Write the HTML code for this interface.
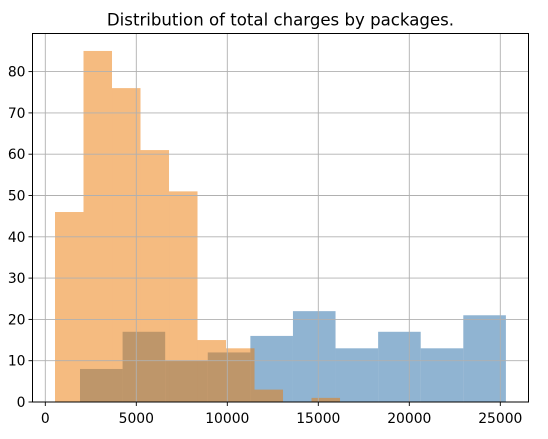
<!DOCTYPE html>
<html><head><meta charset="utf-8"><style>
body{margin:0;background:#fff;font-family:"DejaVu Sans","Liberation Sans",sans-serif}
</style></head><body>
<svg id="c" width="548" height="435" xmlns="http://www.w3.org/2000/svg" font-family="DejaVu Sans, Liberation Sans, sans-serif">
<text x="280.5" y="25.5" text-anchor="middle" font-size="16.6" fill="#000">Distribution of total charges by packages.</text>
</svg>
<script>
const blueCounts=[8,17,10,12,16,22,13,17,13,21];
const blueStart=1907, blueWidth=2340;
const orangeCounts=[46,85,76,61,51,15,13,3,0,1];
const orangeStart=533, orangeWidth=1566;
const xTicks=[0,5000,10000,15000,20000,25000];
const yTicks=[0,10,20,30,40,50,60,70,80];
const svg=document.getElementById('c');
const NS='http://www.w3.org/2000/svg';
const L=32.5,R=528.5,T=33.5,B=402;
const X=v=>45.3+v*0.0182;
const Y=v=>402-v*4.13;
function el(t,a){const e=document.createElementNS(NS,t);for(const k in a)e.setAttribute(k,a[k]);svg.appendChild(e);return e;}
blueCounts.forEach((c,i)=>{if(!c)return;const x0=X(blueStart+i*blueWidth),x1=X(blueStart+(i+1)*blueWidth);
const r=el('rect',{x:x0,y:Y(c),width:x1-x0,height:B-Y(c),fill:'rgb(70,130,180)','fill-opacity':0.6});

});
orangeCounts.forEach((c,i)=>{if(!c)return;const x0=X(orangeStart+i*orangeWidth),x1=X(orangeStart+(i+1)*orangeWidth);
const r=el('rect',{x:x0,y:Y(c),width:x1-x0,height:B-Y(c),fill:'rgb(235,119,1)','fill-opacity':0.5});

});
xTicks.forEach(v=>{const x=X(v);
const g=el('line',{x1:x,x2:x,y1:T,y2:B,stroke:'#b0b0b0','stroke-width':0.9});


el('line',{x1:x,x2:x,y1:B,y2:B+4,stroke:'#000','stroke-width':0.9});
const t=el('text',{x:x,y:B+21,'text-anchor':'middle','font-size':'13.9',fill:'#000'});t.textContent=v;

});
yTicks.forEach(v=>{const y=Y(v);
const g=el('line',{x1:L,x2:R,y1:y,y2:y,stroke:'#b0b0b0','stroke-width':0.9});


el('line',{x1:L-4,x2:L,y1:y,y2:y,stroke:'#000','stroke-width':0.9});
const t=el('text',{x:L-7,y:y+5,'text-anchor':'end','font-size':'13.9',fill:'#000'});t.textContent=v;

});
const f=el('rect',{x:L,y:T,width:R-L,height:B-T,fill:'none',stroke:'#000','stroke-width':1});


</script>
</body></html>
